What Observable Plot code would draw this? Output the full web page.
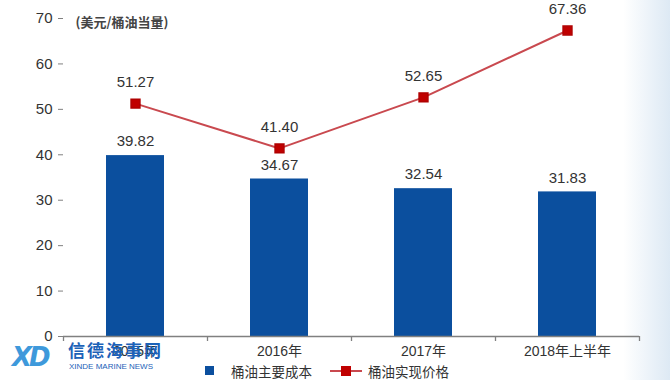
<!DOCTYPE html>
<html><head><meta charset="utf-8">
<script src="https://cdn.jsdelivr.net/npm/d3@7"></script>
<script src="https://cdn.jsdelivr.net/npm/@observablehq/plot@0.6"></script>
<style>
html,body{margin:0;padding:0;}
body{width:670px;height:380px;position:relative;overflow:hidden;font-family:"Liberation Sans",Arial,"Noto Sans CJK SC",sans-serif;
background:linear-gradient(to right,#ffffff 0%,#ffffff 93%,#dde9f4 100%);}
#chart{position:absolute;left:0;top:0;}
#legend{position:absolute;left:205px;top:362px;height:17px;display:flex;align-items:center;font-size:13.5px;line-height:16px;color:#333;font-family:"Noto Sans CJK SC",sans-serif;}
.sw{width:9px;height:9px;background:#0b4f9e;margin-right:17px;}
.ln{position:relative;width:32px;height:2px;background:#c9494f;margin-left:18px;margin-right:6px;}
.ln span{position:absolute;left:11px;top:-4px;width:10px;height:10px;background:#c00000;}
#wm{position:absolute;left:12px;top:340px;color:#1a6fc0;pointer-events:none;}
#wm .xd{position:absolute;left:0;top:2px;font:italic 900 26px "DejaVu Sans",sans-serif;color:#2a8fd8;letter-spacing:-3px;opacity:.9}
#wm .cn{position:absolute;left:56px;top:0;font:bold 17px "Noto Sans CJK SC",sans-serif;line-height:20px;color:#1c62b8;white-space:nowrap;letter-spacing:2px;}
#wm .en{position:absolute;left:57px;top:22px;font:8px "Liberation Sans",Arial,sans-serif;line-height:9px;color:#1c62b8;white-space:nowrap;}
</style></head>
<body>
<div id="chart"></div>
<div id="legend"><div class="sw"></div><span>桶油主要成本</span><div class="ln"><span></span></div><span>桶油实现价格</span></div>
<div id="wm"><div class="xd">XD</div><div class="cn">信德海事网</div><div class="en">XINDE MARINE NEWS</div></div>
<script>
const categories = ["2015年", "2016年", "2017年", "2018年上半年"];
const costValues = [39.82, 34.67, 32.54, 31.83];
const priceValues = [51.27, 41.40, 52.65, 67.36];
const yTicks = [0, 10, 20, 30, 40, 50, 60, 70];
const unitLabel = "(美元/桶油当量)";
const seriesNames = ["桶油主要成本", "桶油实现价格"];

const data = categories.map((c, i) => ({cat: c, cost: costValues[i], price: priceValues[i]}));

const W = 670, H = 362, mL = 63, mR = 31, mT = 18, mB = 26;
const half = (W - mL - mR) / categories.length / 2;

const chart = Plot.plot({
  width: W, height: H,
  marginLeft: mL, marginRight: mR, marginTop: mT, marginBottom: mB,
  style: {fontFamily: '"Liberation Sans", Arial, "Noto Sans CJK SC", sans-serif', background: "transparent", color: "#333"},
  x: {domain: categories, padding: 0},
  y: {domain: [0, 70]},
  marks: [
    Plot.barY(data, {x: "cat", y: "cost", fill: "#0b4f9e", insetLeft: half - 29, insetRight: half - 29}),
    Plot.ruleY([0], {stroke: "#808080", strokeWidth: 1.3}),
    Plot.ruleX(data, {x: "cat", y1: 0, y2: 0, insetBottom: -5, dx: -half, stroke: "#808080", strokeWidth: 1.3}),
    Plot.ruleX(data.slice(-1), {x: "cat", y1: 0, y2: 0, insetBottom: -5, dx: half, stroke: "#808080", strokeWidth: 1.3}),
    Plot.axisY({ticks: yTicks, tickSize: 5, tickPadding: 6, fontSize: 15, stroke: "#808080", fill: "#333", label: null}),
    Plot.ruleX([0], {frameAnchor: "left", y1: 0, y2: 70, stroke: "#808080", strokeWidth: 1.3}),
    Plot.axisX({tickSize: 0, tickPadding: 10, fontSize: 14, fill: "#333", label: null, fontFamily: '"Liberation Sans", Arial, "Noto Sans CJK SC", sans-serif'}),
    Plot.text(data, {x: "cat", y: "cost", text: d => d.cost.toFixed(2), dy: -14, fontSize: 15, fill: "#333"}),
    Plot.lineY(data, {x: "cat", y: "price", stroke: "#c9494f", strokeWidth: 2}),
    Plot.dot(data, {x: "cat", y: "price", symbol: "square", r: 5, fill: "#c00000", stroke: "#b00000"}),
    Plot.text(data, {x: "cat", y: "price", text: d => d.price.toFixed(2), dy: -21, fontSize: 15, fill: "#333"}),
    Plot.text([unitLabel], {frameAnchor: "top-left", dx: 12, dy: -1, text: d => d, fontSize: 13, fontWeight: "bold", fill: "#444", textAnchor: "start", fontFamily: '"Noto Sans CJK SC", sans-serif'})
  ]
});
document.getElementById("chart").appendChild(chart);
</script>
</body></html>
